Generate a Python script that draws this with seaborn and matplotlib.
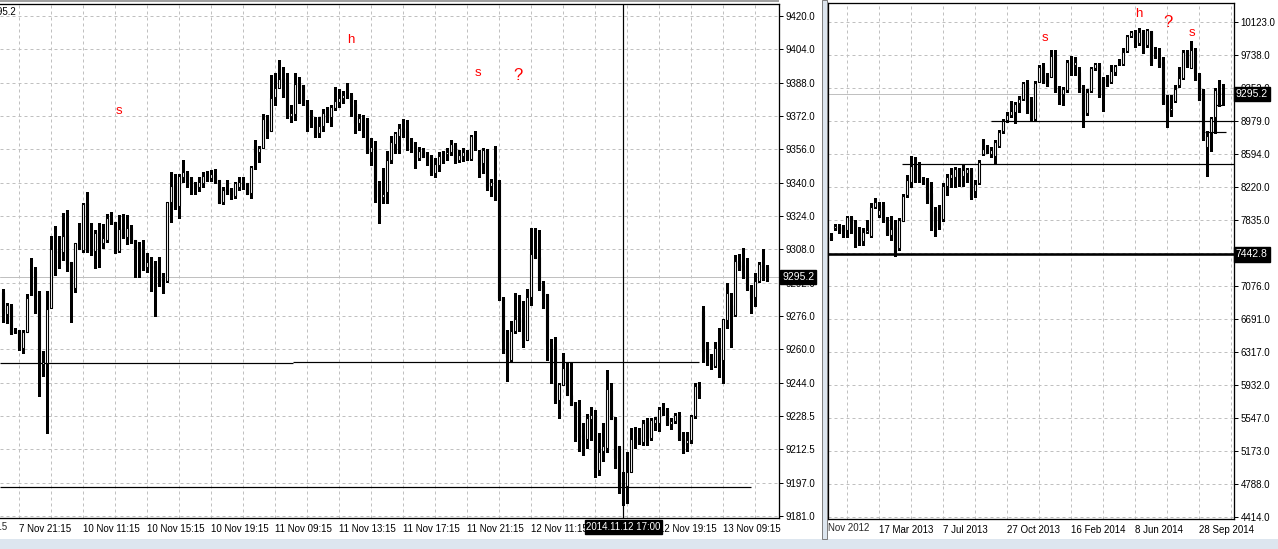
import numpy as np
import matplotlib
matplotlib.use("Agg")
import matplotlib.pyplot as plt
import matplotlib.transforms as mtrans
from matplotlib.patches import Rectangle
import seaborn as sns

# ---------------- M15 chart (left), one value per bar ----------------
m15_open = [9288.1, 9277.6, 9281.4, 9269.4, 9269.4, 9261.3, 9268.9, 9299.1, 9298.1, 9286.6,
            9253.6, 9254.1, 9280.4, 9307.6, 9307.6, 9307.2, 9315.3, 9302.4, 9290.0, 9311.0,
            9308.2, 9330.6, 9308.6, 9307.6, 9316.7, 9311.5, 9312.9, 9322.9, 9321.5, 9307.6,
            9318.6, 9314.4, 9318.6, 9312.9, 9309.6, 9307.6, 9300.0, 9302.4, 9300.5, 9297.6,
            9294.3, 9293.3, 9331.1, 9339.2, 9329.2, 9343.0, 9344.9, 9341.6, 9339.2, 9338.3,
            9340.2, 9343.5, 9342.6, 9344.0, 9341.6, 9331.1, 9337.3, 9336.8, 9334.0, 9338.3,
            9340.6, 9340.2, 9335.4, 9357.9, 9355.0, 9356.9, 9370.3, 9365.0, 9381.3, 9385.6,
            9390.4, 9387.0, 9372.2, 9373.2, 9388.0, 9387.0, 9377.9, 9371.2, 9368.4, 9364.1,
            9367.4, 9373.2, 9371.7, 9376.0, 9378.9, 9380.8, 9381.8, 9382.2, 9377.9, 9368.8,
            9371.3, 9370.8, 9355.0, 9356.9, 9333.6, 9333.5, 9335.9, 9351.2, 9358.8, 9362.6,
            9366.4, 9365.0, 9360.2, 9357.4, 9352.1, 9355.5, 9353.1, 9353.1, 9344.9, 9348.8,
            9354.6, 9354.0, 9355.0, 9358.3, 9351.2, 9353.1, 9355.0, 9351.6, 9362.7, 9354.0,
            9349.7, 9356.0, 9338.7, 9341.2, 9341.1, 9285.2, 9264.2, 9255.6, 9269.4, 9275.6,
            9274.7, 9265.1, 9285.7, 9305.3, 9304.8, 9291.4, 9287.1, 9263.2, 9261.8, 9236.5,
            9243.6, 9251.7, 9238.8, 9233.6, 9230.7, 9219.7, 9217.8, 9227.4, 9229.3, 9203.0,
            9212.1, 9213.5, 9241.2, 9227.4, 9214.5, 9195.3, 9195.3, 9202.0, 9218.3, 9218.8,
            9216.4, 9225.9, 9218.3, 9225.4, 9225.4, 9231.7, 9231.7, 9224.9, 9226.4, 9229.3,
            9218.3, 9215.9, 9217.3, 9228.8, 9243.1, 9279.0, 9260.8, 9257.0, 9252.7, 9261.3,
            9255.6, 9274.7, 9281.9, 9277.1, 9302.9, 9301.0, 9297.2, 9290.0, 9285.7, 9293.3,
            9301.0, 9300.0]
m15_high = [9289.5, 9282.8, 9282.3, 9270.9, 9269.9, 9269.9, 9287.1, 9304.3, 9300.0, 9288.6,
            9259.9, 9288.6, 9314.8, 9319.6, 9314.8, 9325.8, 9327.3, 9302.4, 9311.5, 9321.0,
            9330.6, 9335.9, 9321.0, 9317.7, 9321.0, 9320.6, 9325.3, 9326.3, 9321.5, 9324.9,
            9325.3, 9324.9, 9320.1, 9312.9, 9312.0, 9312.9, 9306.7, 9304.8, 9302.9, 9304.8,
            9297.2, 9331.1, 9345.4, 9344.5, 9344.5, 9351.2, 9345.9, 9343.0, 9340.6, 9343.0,
            9345.4, 9345.9, 9346.4, 9346.9, 9341.6, 9338.3, 9341.6, 9337.8, 9340.6, 9343.0,
            9343.0, 9340.2, 9348.3, 9360.7, 9357.9, 9373.2, 9372.7, 9391.8, 9392.8, 9399.0,
            9395.6, 9392.8, 9377.5, 9392.8, 9390.8, 9387.0, 9379.9, 9375.1, 9371.7, 9371.7,
            9375.6, 9376.5, 9377.5, 9386.1, 9385.1, 9384.2, 9388.0, 9383.2, 9379.9, 9373.2,
            9372.7, 9371.2, 9361.7, 9360.2, 9341.1, 9347.3, 9355.5, 9362.6, 9364.6, 9368.4,
            9370.8, 9370.3, 9361.7, 9359.8, 9357.4, 9356.9, 9355.0, 9353.6, 9352.1, 9355.0,
            9355.5, 9356.9, 9360.7, 9359.3, 9356.0, 9356.9, 9356.0, 9363.1, 9365.0, 9356.0,
            9356.9, 9356.4, 9342.1, 9357.9, 9341.6, 9285.7, 9269.9, 9274.2, 9287.6, 9286.6,
            9283.8, 9289.5, 9318.6, 9318.6, 9317.7, 9293.3, 9287.1, 9265.6, 9266.6, 9244.6,
            9258.9, 9254.1, 9254.1, 9235.5, 9236.5, 9225.4, 9229.7, 9233.1, 9231.7, 9220.7,
            9225.4, 9250.8, 9244.6, 9228.3, 9214.5, 9202.0, 9211.6, 9223.1, 9223.5, 9223.1,
            9226.9, 9227.9, 9227.9, 9228.3, 9233.1, 9235.0, 9232.6, 9227.9, 9230.2, 9230.7,
            9221.2, 9221.2, 9229.3, 9244.6, 9245.1, 9281.4, 9264.2, 9258.4, 9264.2, 9270.9,
            9275.2, 9292.4, 9287.6, 9305.8, 9306.2, 9309.1, 9304.3, 9291.4, 9297.2, 9302.4,
            9308.6, 9301.0]
m15_low = [9273.7, 9273.3, 9268.0, 9268.5, 9260.3, 9258.9, 9268.9, 9286.6, 9278.0, 9238.4,
           9247.9, 9220.7, 9280.4, 9296.2, 9299.6, 9303.4, 9298.1, 9273.7, 9288.1, 9308.6,
           9307.2, 9307.2, 9305.8, 9299.6, 9300.0, 9309.1, 9312.0, 9320.6, 9306.7, 9307.2,
           9313.9, 9311.0, 9311.5, 9295.2, 9295.2, 9298.6, 9297.6, 9288.6, 9276.6, 9290.9,
           9287.6, 9292.8, 9321.5, 9327.7, 9323.4, 9340.6, 9338.3, 9334.9, 9334.9, 9336.4,
           9338.3, 9341.1, 9341.1, 9340.2, 9330.6, 9330.1, 9334.9, 9332.5, 9333.0, 9336.8,
           9337.3, 9334.9, 9333.0, 9346.9, 9350.2, 9356.9, 9361.7, 9365.0, 9377.5, 9385.6,
           9381.3, 9371.2, 9369.3, 9370.3, 9378.4, 9377.5, 9365.0, 9366.9, 9362.2, 9362.2,
           9365.0, 9369.3, 9367.4, 9375.1, 9376.5, 9378.4, 9380.8, 9372.2, 9364.1, 9365.5,
           9362.2, 9354.5, 9348.8, 9331.1, 9321.0, 9330.6, 9330.6, 9349.7, 9354.5, 9354.5,
           9362.2, 9356.0, 9355.0, 9347.3, 9351.2, 9352.6, 9348.8, 9344.0, 9343.0, 9345.9,
           9349.7, 9351.2, 9353.6, 9349.7, 9350.2, 9350.7, 9351.2, 9351.2, 9356.0, 9343.0,
           9344.9, 9336.8, 9334.0, 9332.1, 9284.3, 9258.9, 9245.5, 9254.6, 9268.5, 9269.4,
           9261.8, 9265.1, 9281.9, 9304.3, 9289.0, 9280.4, 9255.6, 9244.6, 9235.0, 9227.9,
           9243.6, 9238.8, 9234.1, 9216.8, 9212.1, 9210.2, 9213.5, 9217.3, 9199.6, 9200.6,
           9207.3, 9211.6, 9227.4, 9203.9, 9192.0, 9186.3, 9187.2, 9202.0, 9213.5, 9215.4,
           9214.9, 9214.9, 9217.3, 9222.1, 9221.6, 9229.3, 9224.5, 9222.6, 9225.4, 9217.3,
           9211.1, 9212.1, 9215.9, 9227.9, 9237.4, 9254.6, 9253.2, 9251.3, 9252.2, 9247.4,
           9244.6, 9270.9, 9261.8, 9276.6, 9298.6, 9294.8, 9289.0, 9278.0, 9281.4, 9292.8,
           9293.8, 9293.3]
m15_close = [9278.0, 9281.9, 9268.5, 9268.9, 9261.3, 9268.9, 9285.2, 9298.6, 9286.2, 9254.1,
             9254.6, 9280.0, 9308.6, 9307.2, 9306.7, 9314.8, 9301.5, 9289.5, 9311.5, 9308.6,
             9330.1, 9308.2, 9307.6, 9316.3, 9311.5, 9313.9, 9323.4, 9321.0, 9307.2, 9318.2,
             9314.4, 9318.6, 9312.9, 9309.1, 9307.6, 9299.6, 9302.4, 9299.6, 9297.2, 9293.3,
             9293.8, 9331.1, 9338.7, 9328.7, 9343.5, 9345.4, 9341.6, 9339.2, 9337.8, 9340.6,
             9343.5, 9343.3, 9344.5, 9340.6, 9330.6, 9336.8, 9336.4, 9334.4, 9340.2, 9340.6,
             9339.7, 9334.9, 9347.8, 9355.0, 9356.9, 9370.8, 9365.0, 9380.8, 9385.6, 9389.9,
             9387.5, 9373.2, 9373.6, 9387.5, 9386.1, 9378.4, 9370.8, 9368.4, 9363.6, 9367.4,
             9373.6, 9371.2, 9376.5, 9379.4, 9380.8, 9382.2, 9381.6, 9378.4, 9368.8, 9371.2,
             9371.1, 9355.0, 9357.4, 9333.5, 9333.4, 9334.9, 9351.2, 9359.8, 9364.1, 9366.4,
             9364.6, 9360.2, 9356.9, 9352.6, 9355.5, 9352.6, 9352.9, 9344.9, 9349.3, 9353.1,
             9354.4, 9355.0, 9358.8, 9351.2, 9353.6, 9355.0, 9351.6, 9362.6, 9362.5, 9348.8,
             9356.0, 9338.3, 9340.6, 9341.0, 9285.2, 9264.2, 9257.0, 9269.4, 9275.2, 9273.7,
             9266.1, 9285.7, 9306.2, 9304.3, 9290.0, 9286.2, 9263.2, 9261.8, 9236.5, 9244.1,
             9251.7, 9238.8, 9234.1, 9230.2, 9218.8, 9217.8, 9227.9, 9229.3, 9203.5, 9211.6,
             9214.5, 9241.7, 9227.4, 9208.7, 9194.8, 9197.3, 9202.0, 9217.8, 9218.1, 9215.9,
             9225.4, 9218.3, 9226.9, 9227.4, 9232.1, 9231.5, 9224.9, 9226.4, 9229.3, 9217.8,
             9214.9, 9217.3, 9228.8, 9243.1, 9242.2, 9259.4, 9256.5, 9253.2, 9261.3, 9255.6,
             9275.2, 9287.6, 9276.6, 9302.9, 9300.0, 9297.2, 9289.5, 9285.2, 9293.3, 9301.5,
             9300.0, 9295.2]

m15_ticks = ["9181.0", "9197.0", "9212.5", "9228.5", "9244.0", "9260.0", "9276.0", "9292.0",
             "9308.0", "9324.0", "9340.0", "9356.0", "9372.0", "9388.0", "9404.0", "9420.0"]
m15_dates = ["7 Nov 21:15", "10 Nov 11:15", "10 Nov 15:15", "10 Nov 19:15",
             "11 Nov 09:15", "11 Nov 13:15", "11 Nov 17:15", "11 Nov 21:15", "12 Nov 11:15",
             "12 Nov 15:15", "12 Nov 19:15", "13 Nov 09:15"]
m15_first_date = "7 Nov 17:15"               # label cut by the window edge
m15_levels = [9254.1, 9254.6, 9194.7]      # drawn support lines
m15_marks = [("s", 28.9, 9374.6), ("h", 86.9, 9408.5), ("s", 118.7, 9392.7), ("?", 128.7, 9391.8)]

# ---------------- weekly chart (right) ----------------
w1_open = [7640.3, 7747.9, 7770.9, 7755.6, 7724.8, 7870.8, 7828.6, 7648.0, 7601.9, 7697.9,
           7659.5, 7993.8, 7897.7, 8009.2, 7809.4, 7667.2, 7763.3, 7513.5, 7832.5, 8128.3,
           8282.1, 8466.6, 8416.6, 8312.8, 8262.9, 8155.2, 7947.7, 7963.1, 7847.8, 8232.2,
           8320.5, 8339.7, 8424.3, 8351.2, 8385.9, 8424.3, 8178.3, 8270.6, 8601.1, 8685.6,
           8601.1, 8581.8, 8693.3, 8870.1, 8993.1, 9050.8, 9089.2, 9185.3, 9235.2, 9423.6,
           9223.7, 9000.8, 9435.1, 9608.0, 9511.9, 9492.7, 9731.0, 9358.2, 9292.9, 9339.0,
           9665.7, 9627.2, 9550.4, 9385.1, 9070.0, 9331.3, 9588.8, 9627.2, 9473.5, 9473.5,
           9435.1, 9550.4, 9646.5, 9638.8, 9792.5, 9965.5, 10011.6, 9884.8, 10011.6, 9857.8,
           10023.1, 9742.5, 9715.6, 9665.7, 9223.7, 9108.4, 9216.0, 9396.6, 9473.5, 9781.0,
           9588.8, 9800.2, 9523.5, 9339.0, 8685.6, 8858.6, 9031.5, 9312.1, 9300.6]
w1_high = [7686.4, 7794.0, 7794.0, 7782.5, 7886.2, 7886.2, 7840.1, 7763.3, 7751.7, 7840.1,
           8039.9, 8097.6, 8051.5, 8051.5, 7878.5, 7886.2, 7840.1, 7859.3, 8136.0, 8358.9,
           8578.0, 8570.4, 8512.7, 8339.7, 8320.5, 8282.1, 7993.8, 8013.0, 8262.9, 8370.5,
           8435.8, 8455.0, 8435.8, 8474.3, 8435.8, 8435.8, 8301.3, 8531.9, 8770.2, 8704.9,
           8685.6, 8762.5, 8877.8, 9000.8, 9089.2, 9212.2, 9204.5, 9269.8, 9435.1, 9454.3,
           9254.4, 9442.8, 9627.2, 9646.5, 9538.8, 9800.2, 9800.2, 9385.1, 9369.7, 9684.9,
           9731.0, 9723.3, 9608.0, 9396.6, 9346.7, 9608.0, 9646.5, 9646.5, 9492.7, 9511.9,
           9627.2, 9627.2, 9692.6, 9819.4, 9973.2, 10023.1, 10030.8, 10050.0, 10030.8, 10038.5,
           10023.1, 9838.6, 9819.4, 9723.3, 9281.4, 9281.4, 9396.6, 9608.0, 9800.2, 9800.2,
           9907.8, 9819.4, 9531.2, 9346.7, 8870.1, 9031.5, 9358.2, 9454.3, 9408.2]
w1_low = [7609.5, 7724.8, 7686.4, 7640.3, 7640.3, 7686.4, 7532.7, 7551.9, 7551.9, 7686.4,
          7648.0, 7974.6, 7878.5, 7820.9, 7667.2, 7609.5, 7425.1, 7494.2, 7832.5, 8109.1,
          8224.5, 8282.1, 8282.1, 8255.2, 8039.9, 7724.8, 7659.5, 7736.3, 7832.5, 8128.3,
          8224.5, 8224.5, 8236.0, 8232.2, 8282.1, 8082.2, 8109.1, 8255.2, 8589.6, 8616.5,
          8570.4, 8485.8, 8685.6, 8839.4, 8973.9, 9031.5, 8962.4, 9089.2, 9223.7, 9077.7,
          8985.4, 8985.4, 9435.1, 9415.8, 9385.1, 9485.1, 9319.8, 9177.6, 9166.1, 9319.8,
          9511.9, 9511.9, 9319.8, 8908.5, 9050.8, 9319.8, 9569.6, 9262.1, 9100.7, 9388.9,
          9423.6, 9511.9, 9627.2, 9627.2, 9781.0, 9953.9, 9838.6, 9857.8, 9761.8, 9838.6,
          9627.2, 9704.1, 9608.0, 9177.6, 8908.5, 9039.2, 9204.5, 9377.4, 9465.8, 9608.0,
          9588.8, 9454.3, 9223.7, 8762.5, 8351.2, 8639.5, 8839.4, 9154.5, 9166.1]
w1_close = [7624.9, 7774.8, 7724.8, 7717.1, 7870.8, 7820.9, 7648.0, 7598.0, 7697.9, 7724.8,
            7993.8, 8047.6, 7955.4, 7832.5, 7678.7, 7732.5, 7455.8, 7840.1, 8120.6, 8301.3,
            8466.6, 8416.6, 8309.0, 8262.9, 8078.4, 7832.5, 7763.3, 7847.8, 8232.2, 8332.0,
            8370.5, 8424.3, 8351.2, 8416.6, 8424.3, 8101.4, 8251.4, 8512.7, 8658.7, 8697.2,
            8647.2, 8743.3, 8850.9, 8985.4, 9050.8, 9096.9, 9173.7, 9231.4, 9415.8, 9196.8,
            9000.8, 9423.6, 9608.0, 9435.1, 9423.6, 9731.0, 9339.0, 9292.9, 9346.7, 9665.7,
            9627.2, 9661.8, 9396.6, 9050.8, 9319.8, 9588.8, 9635.0, 9281.4, 9281.4, 9423.6,
            9561.9, 9615.7, 9654.1, 9781.0, 9961.6, 10003.9, 9896.3, 10011.6, 9857.8, 10030.8,
            9665.7, 9715.6, 9627.2, 9185.3, 9089.2, 9127.6, 9346.7, 9473.5, 9781.0, 9627.2,
            9800.2, 9538.8, 9223.7, 8770.2, 8808.6, 9012.3, 9339.0, 9289.0, 9295.2]

w1_ticks = ["4414.0", "4788.0", "5173.0", "5547.0", "5932.0", "6317.0", "6691.0", "7076.0",
            "7450.0", "7835.0", "8220.0", "8594.0", "8979.0", "9352.0", "9738.0", "10123.0"]
w1_dates = ["17 Mar 2013", "7 Jul 2013", "27 Oct 2013", "16 Feb 2014", "8 Jun 2014", "28 Sep 2014"]
w1_marks = [("s", 53.6, 9938.0), ("h", 77.1, 10215.0), ("?", 84.3, 10123.0), ("s", 90.3, 9996.0)]

last_price = 9295.2
low_level = 7442.8

GRID = "#c0c0c0"
PX = 0.72  # one pixel in points at dpi 100


def draw_candles(ax, o, h, l, c):
    o, h, l, c = map(np.asarray, (o, h, l, c))
    x = np.arange(len(o))
    ax.vlines(x, l, h, color="black", lw=PX * 1.1, zorder=3, antialiased=False)
    up = c >= o
    bottom = np.minimum(o, c)
    height = np.abs(c - o)
    ax.bar(x[up], height[up], bottom=bottom[up], width=0.5, color="white",
           edgecolor="black", lw=PX * 1.1, zorder=4)
    ax.bar(x[~up], height[~up], bottom=bottom[~up], width=0.5, color="black",
           edgecolor="black", lw=PX * 1.1, zorder=4)


def style_axes(ax, ymin, ymax, tick_labels, xmaj, xlabels, xgrid):
    ticks = np.linspace(ymin, ymax, len(tick_labels))
    ax.set_yticks(ticks)
    ax.set_yticklabels(tick_labels)
    ax.yaxis.tick_right()
    ax.set_xticks(xmaj)
    ax.set_xticklabels(xlabels)
    ax.set_xticks(xgrid, minor=True)
    for t in ax.get_xticklabels():
        t.set_horizontalalignment("left")
    ax.tick_params(axis="both", which="major", length=4 * PX, width=PX, pad=1.5,
                   labelsize=7, colors="black")
    ax.tick_params(axis="x", which="minor", length=0)
    ax.grid(True, axis="y", which="major", color=GRID, ls=(0, (3, 3)), lw=PX)
    ax.grid(True, axis="x", which="both", color=GRID, ls=(0, (3, 3)), lw=PX)
    ax.set_axisbelow(True)
    for s in ax.spines.values():
        s.set_color("black")
        s.set_linewidth(PX * 1.3)


def price_tag(ax, y, text):
    tr = mtrans.blended_transform_factory(ax.transAxes, ax.transData)
    ax.text(1.004, y, text, transform=tr, ha="left", va="center", fontsize=7.5,
            color="white", zorder=10, clip_on=False,
            bbox=dict(facecolor="black", edgecolor="black", pad=1.6))


sns.set_style("white")
plt.rcParams["font.family"] = ["Liberation Sans", "DejaVu Sans"]

W, H = 1278, 549
fig = plt.figure(figsize=(W / 100, H / 100), dpi=100)
fig.patch.set_facecolor("white")


def px_axes(x0, y0, x1, y1):
    return fig.add_axes([x0 / W, 1 - y1 / H, (x1 - x0) / W, (y1 - y0) / H])


# ---------------- left panel ----------------
ax1 = px_axes(0, 4, 779, 518)
n1 = len(m15_open)
draw_candles(ax1, m15_open, m15_high, m15_low, m15_close)
style_axes(ax1, 9181.0, 9420.0, m15_ticks,
           np.arange(4, n1, 16), m15_dates, np.arange(-4, n1 + 2, 8))
ax1.set_xlim(-0.825, 193.9)
ax1.set_ylim(9180.04, 9425.74)
ax1.spines["left"].set_visible(False)

trx = mtrans.blended_transform_factory(ax1.transData, ax1.transAxes)
ax1.text(-12, -0.0075, m15_first_date, transform=trx, ha="left", va="top",
         fontsize=7, clip_on=False)

ax1.axhline(last_price, color=GRID, lw=PX, zorder=2)
ax1.hlines(m15_levels[0], -0.825, 72.5, color="black", lw=PX * 1.2, zorder=2)
ax1.hlines(m15_levels[1], 72.5, 173.9, color="black", lw=PX * 1.2, zorder=2)
ax1.hlines(m15_levels[2], -0.825, 186.8, color="black", lw=PX * 1.2, zorder=2)

cross = 155
ax1.axvline(cross, color="black", lw=PX * 1.2, zorder=5)
ax1.text(cross, -0.0075, "2014.11.12 17:00", transform=trx, ha="center", va="top",
         fontsize=7, color="white", zorder=10, clip_on=False,
         bbox=dict(facecolor="black", edgecolor="black", pad=1.2))
price_tag(ax1, last_price, "9295.2")

for txt, xk, yp in m15_marks:
    ax1.text(xk, yp, txt, color="red", ha="center", va="center",
             fontsize=12 if txt == "?" else 9.5)

fig.text(16 / W, 1 - 12 / H, "9295.2", ha="right", va="center", fontsize=7, color="black")

# ---------------- right panel ----------------
ax2 = px_axes(828.3, 2.7, 1234.3, 519)
n2 = len(w1_open)
draw_candles(ax2, w1_open, w1_high, w1_low, w1_close)
style_axes(ax2, 4414.0, 10123.0, w1_ticks,
           np.arange(12, n2, 16), w1_dates, np.arange(4, n2 + 3, 8))
ax2.set_xlim(-0.6, 100.9)
ax2.set_ylim(4390.9, 10345.6)

ax2.axhline(last_price, color=GRID, lw=PX, zorder=2)
ax2.axhline(low_level, color="black", lw=PX * 2.6, zorder=2)
ax2.hlines(8482.0, 17.75, 100.9, color="black", lw=PX * 1.2, zorder=2)
ax2.hlines(8980.0, 40.0, 100.9, color="black", lw=PX * 1.2, zorder=2)
ax2.hlines(8858.0, 93.6, 98.8, color="black", lw=PX * 1.2, zorder=2)
ax2.hlines(9162.6, 96.0, 97.8, color="black", lw=PX * 1.2, zorder=2)
price_tag(ax2, last_price, "9295.2")
price_tag(ax2, low_level, "7442.8")
trx2 = mtrans.blended_transform_factory(ax2.transAxes, ax2.transAxes)
ax2.text(0.0, -0.0075, "Nov 2012", transform=trx2, ha="left", va="top", fontsize=7)

for txt, xk, yp in w1_marks:
    ax2.text(xk, yp, txt, color="red", ha="center", va="center",
             fontsize=12 if txt == "?" else 9.5)

# window frame pieces
fig.patches.append(Rectangle((0, 0), 1, 10 / H, transform=fig.transFigure,
                             facecolor="#dde6ef", edgecolor="none", zorder=0))
fig.patches.append(Rectangle((0, 1 - 2 / H), 779 / W, 2 / H, transform=fig.transFigure,
                             facecolor="#a0a0a0", edgecolor="none", zorder=0))
fig.patches.append(Rectangle((822 / W, 10 / H), 5 / W, 1 - 10 / H, transform=fig.transFigure,
                             facecolor="#dde6ef", edgecolor="#808080", lw=PX, zorder=0))

fig.savefig("out.png", dpi=100)
